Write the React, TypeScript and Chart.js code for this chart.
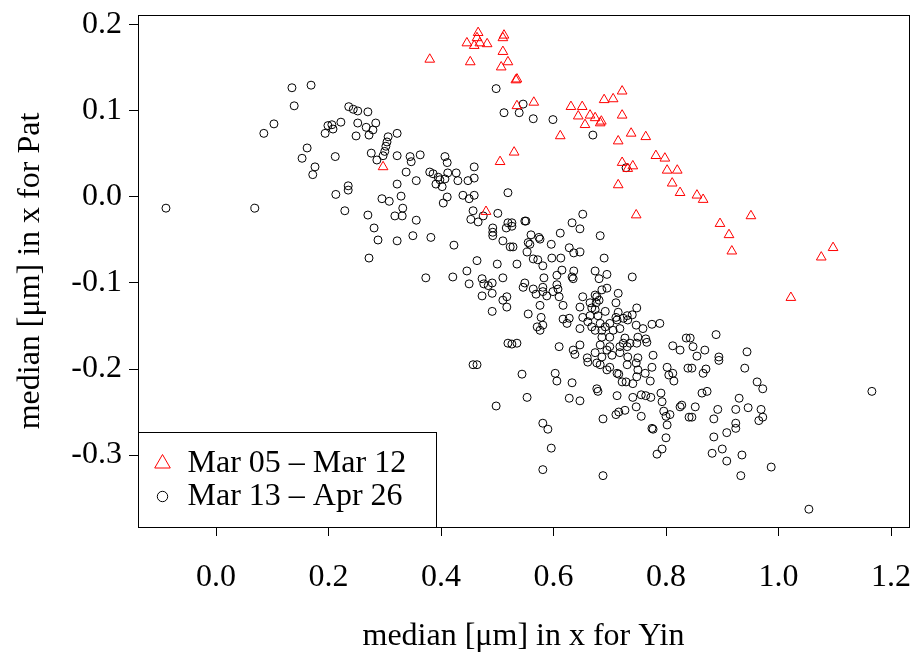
import React, { useEffect, useRef } from "react";
import { Chart, registerables } from "chart.js";

Chart.register(...registerables);

// Series 1: Mar 05 – Mar 12 (red triangles)
const EARLY_YIN = [
  0.380, 0.446, 0.452, 0.466, 0.459, 0.469, 0.482, 0.464, 0.512, 0.510,
  0.510, 0.507, 0.519, 0.535, 0.533, 0.535, 0.565, 0.530, 0.505, 0.297,
  0.480, 0.612, 0.631, 0.651, 0.644, 0.656, 0.665, 0.674, 0.683, 0.685,
  0.690, 0.706, 0.722, 0.722, 0.715, 0.738, 0.764, 0.782, 0.798, 0.722,
  0.732, 0.741, 0.802, 0.820, 0.811, 0.715, 0.747, 0.825, 0.855, 0.866,
  0.951, 0.896, 0.912, 0.917, 1.022, 1.076, 1.097,
];
const EARLY_PAT = [
  0.160, 0.179, 0.157, 0.191, 0.176, 0.179, 0.178, 0.185, 0.188, 0.185,
  0.169, 0.151, 0.157, 0.137, 0.136, 0.106, 0.110, 0.052, 0.041, 0.035,
  -0.017, 0.071, 0.105, 0.105, 0.094, 0.084, 0.095, 0.092, 0.086, 0.088,
  0.113, 0.114, 0.123, 0.095, 0.065, 0.074, 0.070, 0.048, 0.045, 0.040,
  0.033, 0.036, 0.031, 0.031, 0.016, 0.014, -0.021, 0.005, 0.002, -0.003,
  -0.022, -0.031, -0.044, -0.063, -0.117, -0.070, -0.059,
];

// Series 2: Mar 13 – Apr 26 (black circles)
const LATE_YIN = [
  0.135, 0.169, 0.139, 0.103, 0.085, 0.199, 0.194, 0.162, 0.153, 0.176, 0.172,
  -0.089, 0.069,
  0.498, 0.512, 0.236, 0.244, 0.252, 0.270, 0.222, 0.206, 0.208, 0.252, 0.267,
  0.284, 0.279, 0.272, 0.249, 0.306, 0.322, 0.304, 0.302, 0.300, 0.297, 0.276,
  0.286, 0.322, 0.345, 0.347, 0.363, 0.212, 0.407, 0.411, 0.459, 0.338, 0.380,
  0.386, 0.395, 0.412, 0.427, 0.398, 0.407, 0.430, 0.448, 0.459, 0.356, 0.391,
  0.402, 0.322, 0.235,
  0.546, 0.539, 0.564, 0.599, 0.670, 0.729,
  0.213, 0.235, 0.295, 0.308, 0.329, 0.332, 0.229, 0.270, 0.318, 0.331, 0.356,
  0.281, 0.288, 0.322, 0.350, 0.382, 0.272, 0.423, 0.404, 0.411, 0.439, 0.450,
  0.459, 0.457, 0.453, 0.466, 0.475, 0.501, 0.492, 0.492, 0.492, 0.516, 0.510,
  0.523, 0.519, 0.519, 0.464, 0.500, 0.446, 0.421, 0.373, 0.450, 0.473, 0.476,
  0.484, 0.491, 0.473, 0.491, 0.510, 0.510, 0.517, 0.517, 0.491, 0.519, 0.457,
  0.464, 0.498,
  0.526, 0.526, 0.549, 0.551, 0.652, 0.633, 0.647, 0.612, 0.560, 0.574, 0.576,
  0.683, 0.528, 0.555, 0.558, 0.596, 0.553, 0.628, 0.636, 0.647, 0.597, 0.613,
  0.564, 0.572, 0.581, 0.690, 0.535, 0.636, 0.615, 0.606, 0.633, 0.635, 0.583,
  0.674, 0.695, 0.681, 0.740, 0.549, 0.546, 0.581, 0.606, 0.608, 0.695, 0.686,
  0.564, 0.569, 0.581, 0.588, 0.599, 0.610, 0.715, 0.652, 0.674, 0.677, 0.681,
  0.665, 0.676, 0.617, 0.576, 0.647, 0.668, 0.711, 0.674, 0.692, 0.715, 0.748,
  0.555, 0.578, 0.652, 0.665, 0.679, 0.731, 0.711, 0.740, 0.617, 0.628, 0.624,
  0.581, 0.571, 0.576, 0.661, 0.668, 0.683, 0.692, 0.700, 0.713, 0.724, 0.732,
  0.747, 0.759, 0.775, 0.789, 0.647, 0.674, 0.686, 0.706, 0.718, 0.686, 0.700,
  0.727, 0.750, 0.764, 0.836, 0.724, 0.736, 0.535, 0.526, 0.610, 0.647, 0.683,
  0.700, 0.718, 0.731, 0.748, 0.766, 0.812, 0.825, 0.635, 0.638, 0.660, 0.674,
  0.686, 0.695, 0.704, 0.718, 0.732, 0.750, 0.777,
  0.889, 0.848, 0.869, 0.855, 0.894, 0.944, 0.843,
  0.544, 0.603, 0.606, 0.633, 0.553, 0.628, 0.647, 0.661, 0.677, 0.683, 0.695,
  0.700, 0.713, 0.716, 0.722, 0.729, 0.731, 0.741, 0.747, 0.748, 0.750, 0.763,
  0.772, 0.775, 0.802, 0.805, 0.812, 0.814, 0.839, 0.677, 0.679, 0.713, 0.741,
  0.756, 0.764, 0.773, 0.791, 0.793, 0.796, 0.747, 0.756, 0.727, 0.716, 0.711,
  0.688, 0.800, 0.807, 0.802, 0.825, 0.828, 0.841, 0.775, 0.777, 0.800, 0.793,
  0.784, 0.581, 0.590, 0.596, 0.581, 0.688,
  0.846, 0.871, 0.866, 0.894, 0.940, 0.962, 0.972, 0.864, 0.873, 0.930, 0.852,
  0.892, 0.924, 0.946, 0.969, 0.972, 0.965, 0.846, 0.885, 0.924, 0.924, 0.908,
  0.885, 0.900, 0.882, 0.908, 0.935, 0.987, 0.933, 1.166, 1.054,
];
const LATE_PAT = [
  0.127, 0.130, 0.106, 0.085, 0.074, 0.083, 0.074, 0.057, 0.045, 0.035, 0.026,
  -0.013, -0.013,
  0.126, 0.098, 0.105, 0.102, 0.100, 0.099, 0.087, 0.084, 0.079, 0.086, 0.081,
  0.086, 0.078, 0.072, 0.071, 0.070, 0.074, 0.064, 0.059, 0.053, 0.048, 0.051,
  0.043, 0.048, 0.047, 0.041, 0.049, 0.047, 0.047, 0.040, 0.035, 0.029, 0.029,
  0.027, 0.023, 0.028, 0.028, 0.020, 0.021, 0.019, 0.019, 0.022, 0.019, 0.015,
  0.012, 0.015, 0.013,
  0.108, 0.098, 0.091, 0.090, 0.072, 0.034,
  0.003, 0.008, -0.002, -0.005, 0.001, -0.013, -0.016, -0.021, -0.022, -0.022, -0.027,
  -0.036, -0.050, -0.051, -0.045, -0.047, -0.071, -0.056, -0.007, 0.000, 0.002, -0.002,
  0.002, -0.016, -0.026, -0.029, -0.022, -0.019, -0.036, -0.041, -0.045, -0.036, -0.051,
  -0.058, -0.030, 0.005, -0.074, -0.078, -0.086, -0.093, -0.094, -0.101, -0.095, -0.101,
  -0.103, -0.100, -0.115, -0.112, -0.094, -0.120, -0.116, -0.128, -0.133, -0.170, -0.195,
  -0.195, -0.243,
  -0.030, -0.034, -0.028, -0.028, -0.020, -0.030, -0.037, -0.042, -0.044, -0.047, -0.049,
  -0.045, -0.058, -0.053, -0.055, -0.055, -0.064, -0.059, -0.065, -0.064, -0.071, -0.071,
  -0.072, -0.073, -0.080, -0.071, -0.078, -0.086, -0.085, -0.091, -0.093, -0.095, -0.094,
  -0.086, -0.090, -0.095, -0.093, -0.100, -0.105, -0.105, -0.102, -0.107, -0.106, -0.108,
  -0.107, -0.113, -0.110, -0.115, -0.110, -0.116, -0.112, -0.116, -0.114, -0.116, -0.120,
  -0.123, -0.123, -0.126, -0.126, -0.128, -0.129, -0.123, -0.131, -0.133, -0.134, -0.129,
  -0.136, -0.140, -0.140, -0.138, -0.138, -0.138, -0.140, -0.137, -0.142, -0.141, -0.147,
  -0.149, -0.151, -0.155, -0.145, -0.151, -0.147, -0.151, -0.147, -0.143, -0.141, -0.143,
  -0.149, -0.153, -0.148, -0.147, -0.153, -0.155, -0.155, -0.155, -0.153, -0.163, -0.163,
  -0.164, -0.163, -0.165, -0.164, -0.170, -0.170, -0.170, -0.171, -0.174, -0.172, -0.172,
  -0.174, -0.174, -0.174, -0.170, -0.169, -0.173, -0.178, -0.178, -0.183, -0.187, -0.181,
  -0.186, -0.178, -0.184, -0.181, -0.186, -0.187, -0.184,
  -0.160, -0.174, -0.178, -0.185, -0.186, -0.180, -0.164,
  -0.206, -0.205, -0.214, -0.216, -0.233, -0.234, -0.237, -0.192, -0.193, -0.195, -0.201,
  -0.198, -0.205, -0.206, -0.215, -0.215, -0.195, -0.217, -0.193, -0.209, -0.201, -0.205,
  -0.214, -0.198, -0.198, -0.207, -0.205, -0.214, -0.199, -0.223, -0.226, -0.231, -0.233,
  -0.230, -0.231, -0.233, -0.228, -0.238, -0.249, -0.244, -0.255, -0.248, -0.250, -0.253,
  -0.258, -0.255, -0.253, -0.265, -0.244, -0.242, -0.256, -0.269, -0.270, -0.280, -0.293,
  -0.299, -0.263, -0.270, -0.292, -0.317, -0.324,
  -0.199, -0.200, -0.205, -0.190, -0.199, -0.215, -0.223, -0.228, -0.226, -0.234, -0.244,
  -0.247, -0.247, -0.245, -0.247, -0.256, -0.260, -0.256, -0.258, -0.263, -0.269, -0.274,
  -0.279, -0.293, -0.298, -0.307, -0.300, -0.314, -0.324, -0.226, -0.363,
];

const X_TICKS = [0.0, 0.2, 0.4, 0.6, 0.8, 1.0, 1.2];
const Y_TICKS = [-0.3, -0.2, -0.1, 0.0, 0.1, 0.2];
const LEGEND_LABELS = ["Mar 05 \u2013 Mar 12", "Mar 13 \u2013 Apr 26"];
const X_TITLE = "median [\u03bcm] in x for Yin";
const Y_TITLE = "median [\u03bcm] in x for Pat";

const FONT = "'Liberation Serif', 'DejaVu Serif', serif";
const FONT_SIZE = 32;

const frameAndLegend = {
  id: "frameAndLegend",
  afterDraw(chart: any) {
    const { ctx, chartArea: a } = chart;
    ctx.save();
    ctx.strokeStyle = "#000";
    ctx.lineWidth = 1;
    const L = Math.round(a.left) + 0.5;
    const T = Math.round(a.top) + 0.5;
    const R = Math.round(a.right) + 0.5;
    const B = Math.round(a.bottom) + 0.5;
    ctx.strokeRect(L, T, R - L, B - T);

    // legend box at bottom-left
    const w = 298;
    const h = 95;
    ctx.fillStyle = "#fff";
    ctx.fillRect(L, B - h, w, h);
    ctx.strokeRect(L, B - h, w, h);

    const mx = L + 24;
    const y1 = B - 64;
    const y2 = B - 31;
    // triangle
    const r = 9;
    ctx.strokeStyle = "#ff0000";
    ctx.beginPath();
    ctx.moveTo(mx, y1 - r);
    ctx.lineTo(mx + 0.866 * r, y1 + 0.5 * r);
    ctx.lineTo(mx - 0.866 * r, y1 + 0.5 * r);
    ctx.closePath();
    ctx.stroke();
    // circle
    ctx.strokeStyle = "#000";
    ctx.beginPath();
    ctx.arc(mx, y2, 5.2, 0, Math.PI * 2);
    ctx.stroke();

    ctx.fillStyle = "#000";
    ctx.font = `${FONT_SIZE}px ${FONT}`;
    ctx.textAlign = "left";
    ctx.textBaseline = "middle";
    ctx.fillText(LEGEND_LABELS[0], L + 49, y1);
    ctx.fillText(LEGEND_LABELS[1], L + 49, y2);
    ctx.restore();
  },
};

export default function App() {
  const ref = useRef<HTMLCanvasElement | null>(null);

  useEffect(() => {
    const canvas = ref.current;
    if (!canvas) return;
    const early = EARLY_YIN.map((x, i) => ({ x, y: EARLY_PAT[i] }));
    const late = LATE_YIN.map((x, i) => ({ x, y: LATE_PAT[i] }));

    const chart = new Chart(canvas, {
      type: "scatter",
      data: {
        datasets: [
          {
            label: LEGEND_LABELS[0],
            data: early,
            pointStyle: "triangle",
            pointRadius: 5.6,
            borderColor: "#ff0000",
            backgroundColor: "rgba(0,0,0,0)",
            pointBorderWidth: 1,
            order: 0,
          },
          {
            label: LEGEND_LABELS[1],
            data: late,
            pointStyle: "circle",
            pointRadius: 4,
            borderColor: "#000000",
            backgroundColor: "rgba(0,0,0,0)",
            pointBorderWidth: 1,
            order: 1,
          },
        ],
      },
      options: {
        responsive: false,
        animation: false,
        devicePixelRatio: 1,
        layout: { padding: { top: 15, right: 7, left: 0, bottom: 0 } },
        plugins: {
          legend: { display: false },
          tooltip: { enabled: false },
        },
        scales: {
          x: {
            type: "linear",
            position: "bottom",
            min: -0.1387,
            max: 1.232,
            afterBuildTicks: (s: any) => {
              s.ticks = X_TICKS.map((v) => ({ value: v }));
            },
            afterFit: (s: any) => {
              s.height = 130;
              s.paddingLeft = 0;
              s.paddingRight = 0;
            },
            grid: {
              drawOnChartArea: false,
              drawTicks: true,
              tickLength: 9,
              tickColor: "#000",
              tickWidth: 1,
            },
            border: { display: true, color: "#000", width: 1 },
            ticks: {
              color: "#000",
              padding: 22,
              maxRotation: 0,
              autoSkip: false,
              font: { family: FONT, size: FONT_SIZE },
              callback: (v: any) => Number(v).toFixed(1),
            },
            title: {
              display: true,
              text: X_TITLE,
              color: "#000",
              font: { family: FONT, size: FONT_SIZE },
              padding: { top: 0, bottom: 1 },
            },
          },
          y: {
            type: "linear",
            position: "left",
            min: -0.3837,
            max: 0.2116,
            afterBuildTicks: (s: any) => {
              s.ticks = Y_TICKS.map((v) => ({ value: v }));
            },
            afterFit: (s: any) => {
              s.width = 138;
              s.paddingTop = 0;
              s.paddingBottom = 0;
            },
            grid: {
              drawOnChartArea: false,
              drawTicks: true,
              tickLength: 9,
              tickColor: "#000",
              tickWidth: 1,
            },
            border: { display: true, color: "#000", width: 1 },
            ticks: {
              color: "#000",
              padding: 7,
              autoSkip: false,
              font: { family: FONT, size: FONT_SIZE },
              callback: (v: any) => Number(v).toFixed(1),
            },
            title: {
              display: true,
              text: Y_TITLE,
              color: "#000",
              font: { family: FONT, size: FONT_SIZE },
              padding: { top: 11, bottom: 0 },
            },
          },
        },
      },
      plugins: [frameAndLegend],
    });
    return () => chart.destroy();
  }, []);

  return (
    <div
      style={{
        position: "fixed",
        left: 0,
        top: 0,
        width: 916,
        height: 657,
        background: "#fff",
      }}
    >
      <canvas ref={ref} width={916} height={657} />
    </div>
  );
}
